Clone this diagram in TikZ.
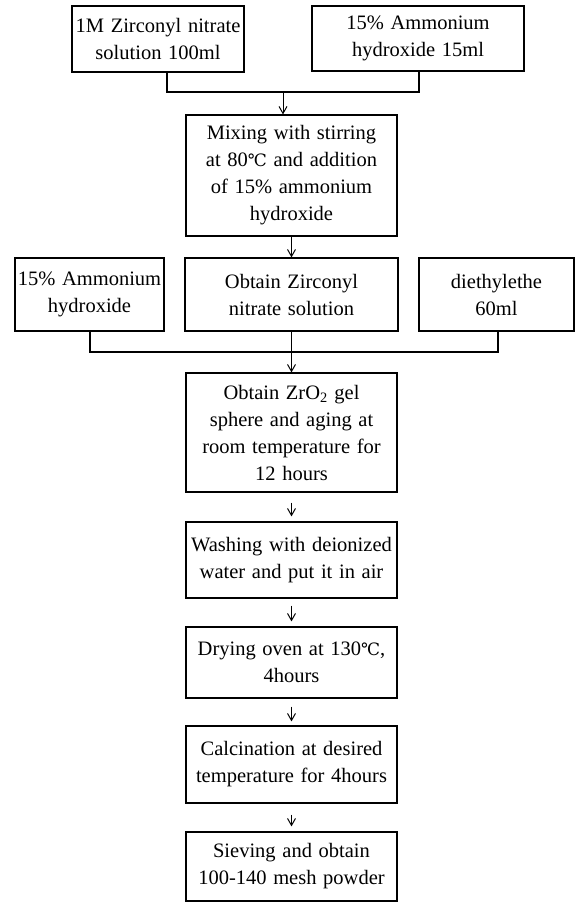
\documentclass[tikz,border=0pt]{standalone}
\usepackage{fontspec}
\setmainfont{Liberation Serif}[WordSpace=1.3]
\newfontfamily\degfont{DejaVu Serif}
\usetikzlibrary{arrows.meta,calc}
\newcommand{\degC}{{\degfont\fontsize{17}{27}\selectfont ℃}}
\begin{document}
\begin{tikzpicture}[x=1pt,y=-1pt,
  box/.style={draw=black, line width=1.2pt, inner sep=0pt, align=center,
    font=\fontsize{20.5}{27}\selectfont},
  conn/.style={line width=1.1pt},
  arr/.style={line width=1pt, -{Straight Barb[length=7pt,width=8pt,line width=1pt]}}]
\useasboundingbox[fill=white] (0,0) rectangle (581,902);
% top row
\node[box, minimum width=172pt, minimum height=66pt] (b1) at (158,39) {1M Zirconyl nitrate\\solution 100ml};
\node[box, minimum width=212pt, minimum height=65pt] (b2) at (418,38.5) {15\% Ammonium\\hydroxide 15ml};
% mixing
\node[box, minimum width=211pt, minimum height=121pt] (mix) at (291.5,175.5) {Mixing with stirring\\at 80\degC{} and addition\\of 15\% ammonium\\hydroxide};
% middle row
\node[box, minimum width=149pt, minimum height=73pt] (amm) at (89.5,294.5) {15\% Ammonium\\hydroxide};
\node[box, minimum width=213pt, minimum height=73pt] (obt) at (291.5,294.5) {Obtain Zirconyl\\nitrate solution};
\node[box, minimum width=155pt, minimum height=73pt] (die) at (496.5,294.5) {diethylethe\\60ml};
% column
\node[box, minimum width=211pt, minimum height=119pt] (zr) at (291.5,432.5) {Obtain ZrO\textsubscript{2} gel\\sphere and aging at\\room temperature for\\12 hours};
\node[box, minimum width=211pt, minimum height=76pt] (wash) at (291.5,560) {Washing with deionized\\water and put it in air};
\node[box, minimum width=211pt, minimum height=71pt] (dry) at (291.5,662.5) {Drying oven at 130\degC,\\4hours};
\node[box, minimum width=211pt, minimum height=77pt] (calc) at (291.5,764.5) {Calcination at desired\\temperature for 4hours};
\node[box, minimum width=211pt, minimum height=69pt] (siev) at (291.5,866.5) {Sieving and obtain\\100-140 mesh powder};
% top connector
\coordinate (ja) at (167,92);
\coordinate (jb) at (419,92);
\coordinate (jc) at (283,92);
\draw[conn] (b1.south -| ja) -- (ja) -- (jb) -- (b2.south -| jb);
\draw[arr] (jc) -- (mix.north -| jc);
\draw[arr] (mix) -- (obt);
% row connector
\coordinate (jrow) at (291.5,352);
\coordinate (jl) at (90,352);
\coordinate (jr) at (498,352);
\draw[conn] (amm.south -| jl) -- (jl) -- (jr) -- (die.south -| jr);
\draw[conn] (obt) -- (jrow);
\draw[arr] (jrow) -- (zr);
% column arrows
\draw[arr, shorten <=10pt, shorten >=5pt] (zr) -- (wash);
\draw[arr, shorten <=7pt, shorten >=5pt] (wash) -- (dry);
\draw[arr, shorten <=8pt, shorten >=4pt] (dry) -- (calc);
\draw[arr, shorten <=11pt, shorten >=5pt] (calc) -- (siev);
\end{tikzpicture}
\end{document}
